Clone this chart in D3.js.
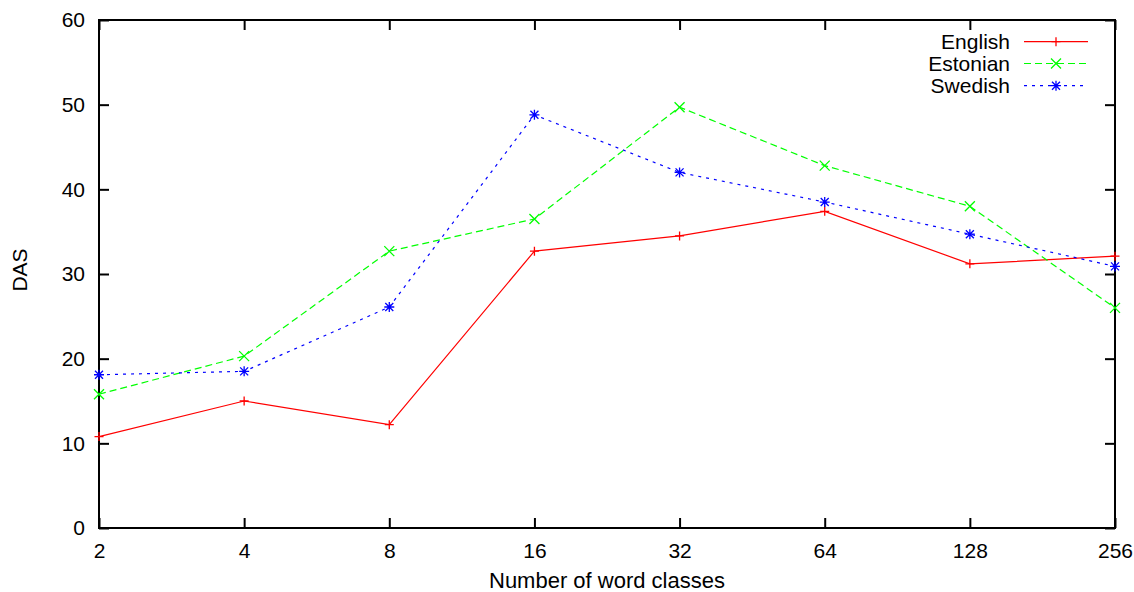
<!DOCTYPE html>
<html>
<head>
<meta charset="utf-8">
<script src="https://cdn.jsdelivr.net/npm/d3@7"></script>
<style>
  html, body { margin: 0; padding: 0; background: #fff; }
  text { font-family: "Liberation Sans", Arial, Helvetica, sans-serif; }
</style>
</head>
<body>
<svg id="chart" width="1134" height="592"></svg>
<script>
const categories = ["2", "4", "8", "16", "32", "64", "128", "256"];
const english  = [10.8, 15.0, 12.2, 32.7, 34.5, 37.4, 31.2, 32.1];
const estonian = [15.8, 20.3, 32.7, 36.5, 49.7, 42.8, 38.0, 26.0];
const swedish  = [18.1, 18.5, 26.1, 48.8, 42.0, 38.5, 34.7, 30.9];
const yTicks = [0, 10, 20, 30, 40, 50, 60];
const seriesNames = ["English", "Estonian", "Swedish"];

const series = [
  { name: seriesNames[0], values: english,  color: "#ff0000", dash: null,  marker: "plus" },
  { name: seriesNames[1], values: estonian, color: "#00ff00", dash: "7,4", marker: "cross" },
  { name: seriesNames[2], values: swedish,  color: "#0000ff", dash: "3,5", marker: "star" }
];

const svg = d3.select("#chart");
const pL = 99, pR = 1115, pT = 20, pB = 528;

const x = d3.scalePoint().domain(categories).range([pL, pR]).padding(0);
const y = d3.scaleLinear().domain([0, 60]).range([pB, pT]);

const fs = 21;

// Axes (inward ticks)
const gL = svg.append("g").attr("transform", `translate(${pL},0)`)
  .call(d3.axisLeft(y).tickValues(yTicks).tickSizeInner(-10).tickSizeOuter(0).tickPadding(14));
const gR = svg.append("g").attr("transform", `translate(${pR},0)`)
  .call(d3.axisRight(y).tickValues(yTicks).tickSizeInner(-10).tickSizeOuter(0).tickFormat(""));
const gB = svg.append("g").attr("transform", `translate(0,${pB})`)
  .call(d3.axisBottom(x).tickSizeInner(-10).tickSizeOuter(0).tickPadding(15));
const gT = svg.append("g").attr("transform", `translate(0,${pT})`)
  .call(d3.axisTop(x).tickSizeInner(-10).tickSizeOuter(0).tickFormat(""));

[gL, gR, gB, gT].forEach(g => {
  g.select(".domain").remove();
  g.selectAll(".tick line").attr("stroke", "#000").attr("stroke-width", 2);
  g.selectAll(".tick text").attr("fill", "#000").style("font-size", fs + "px")
    .style("font-family", "'Liberation Sans', Arial, sans-serif");
});

// Frame
svg.append("rect").attr("x", pL).attr("y", pT)
  .attr("width", pR - pL).attr("height", pB - pT)
  .attr("fill", "none").attr("stroke", "#000").attr("stroke-width", 2);

// Axis labels
svg.append("text").attr("x", (pL + pR) / 2).attr("y", 588)
  .attr("text-anchor", "middle").style("font-size", "22px").text("Number of word classes");
svg.append("text").attr("transform", `translate(27,${(pT + pB) / 2 - 4}) rotate(-90)`)
  .attr("text-anchor", "middle").style("font-size", fs + "px").text("DAS");

function drawMarker(g, type, cx, cy, color) {
  const s = type === "plus" ? 4.5 : 5;
  const p = d3.path();
  if (type === "plus" || type === "star") {
    p.moveTo(cx - s, cy); p.lineTo(cx + s, cy);
    p.moveTo(cx, cy - s); p.lineTo(cx, cy + s);
  }
  if (type === "cross" || type === "star") {
    const d = type === "star" ? s * 0.8 : s;
    p.moveTo(cx - d, cy - d); p.lineTo(cx + d, cy + d);
    p.moveTo(cx - d, cy + d); p.lineTo(cx + d, cy - d);
  }
  g.append("path").attr("d", p.toString()).attr("stroke", color)
    .attr("stroke-width", 1.3).attr("fill", "none");
}

const line = d3.line().x((d, i) => x(categories[i])).y(d => y(d));

series.forEach(s => {
  const g = svg.append("g");
  g.append("path").datum(s.values).attr("d", line)
    .attr("fill", "none").attr("stroke", s.color).attr("stroke-width", 1.2)
    .attr("stroke-dasharray", s.dash);
  s.values.forEach((v, i) => drawMarker(g, s.marker, x(categories[i]), y(v), s.color));
});

// Legend
const legRowsY = [41.7, 63.5, 85.7];
series.forEach((s, i) => {
  const ly = legRowsY[i];
  const g = svg.append("g");
  g.append("text").attr("x", 1010).attr("y", ly).attr("dy", "0.35em")
    .attr("text-anchor", "end").style("font-size", fs + "px").text(s.name);
  g.append("line").attr("x1", 1024).attr("x2", 1088).attr("y1", ly).attr("y2", ly)
    .attr("stroke", s.color).attr("stroke-width", 1.2).attr("stroke-dasharray", s.dash);
  drawMarker(g, s.marker, 1056, ly, s.color);
});
</script>
</body>
</html>
